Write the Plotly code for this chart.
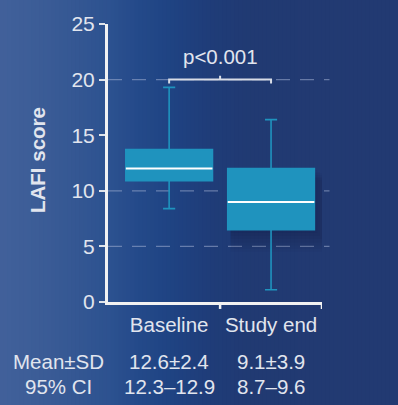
import numpy as np
import plotly.graph_objects as go

# ---- data ----
categories = ["Baseline", "Study end"]
upper_whisker = [19.3, 16.4]
q3_values = [13.7, 12.0]
medians = [12.0, 9.0]
q1_values = [10.9, 6.5]
lower_whisker = [8.4, 1.1]
y_ticks = [0, 5, 10, 15, 20, 25]
grid_values = [5, 10, 20]
p_text = "p<0.001"
bracket_value = 20
row_labels = ["Mean±SD", "95% CI"]
mean_sd = ["12.6±2.4", "9.1±3.9"]
ci_95 = ["12.3–12.9", "8.7–9.6"]

FONT = "Liberation Sans, Arial, Helvetica, sans-serif"
TXT = "#e1e5ee"
BOX = "#1f93be"
BOXGAP = 0.15

W, H = 398, 405
ML, MR, MT, MB = 108, 76, 24, 103
PW, PH = W - ML - MR, H - MT - MB


def px_to_paper_x(px):
    return (px - ML) / PW


def py_to_paper_y(py):
    return (H - MB - py) / PH


fig = go.Figure()

fig.add_trace(go.Box(
    x=categories, q1=q1_values, median=medians, q3=q3_values,
    lowerfence=lower_whisker, upperfence=upper_whisker,
    fillcolor=BOX, line=dict(color=BOX, width=1.6),
    whiskerwidth=0.14, boxpoints=False, hoverinfo="skip", showlegend=False,
))
# white median line
fig.add_trace(go.Box(
    x=categories, q1=medians, median=medians, q3=medians,
    lowerfence=medians, upperfence=medians,
    fillcolor="white", line=dict(color="white", width=2),
    whiskerwidth=0, boxpoints=False, hoverinfo="skip", showlegend=False,
))

shapes = []
# background gradient (decoration)
stops_px = [0, 40, 80, 110, 140, 175, 210, 250, 300, 398]
stops_rgb = [
    (66, 97, 155), (60, 93, 151), (52, 87, 147), (45, 82, 144), (36, 74, 138),
    (31, 67, 130), (31, 61, 121), (33, 58, 115), (34, 58, 114), (34, 58, 114),
]
n = 100
edges = np.linspace(0, W, n + 1)
for i in range(n):
    c = 0.5 * (edges[i] + edges[i + 1])
    rgb = [int(np.interp(c, stops_px, [s[k] for s in stops_rgb])) for k in range(3)]
    shapes.append(dict(
        type="rect", xref="paper", yref="paper",
        x0=px_to_paper_x(edges[i] - 0.5), x1=px_to_paper_x(edges[i + 1] + 0.5),
        y0=py_to_paper_y(H + 5), y1=py_to_paper_y(-5),
        fillcolor="rgb(%d,%d,%d)" % tuple(rgb), line=dict(width=0), layer="below",
    ))

# soft shadow to the right/below of the second box (decoration)
hw = (1 - BOXGAP) / 2
for k in range(1, 8):
    padx = 0.028 * k
    pady = 0.28 * k
    shapes.append(dict(
        type="rect", xref="x", yref="y",
        x0=1 - hw + 0.03, x1=1 + hw + padx,
        y0=q1_values[1] - pady, y1=q3_values[1] - 0.15 * k,
        fillcolor="rgba(10,20,50,0.05)", line=dict(width=0), layer="below",
    ))

# dashed grid lines
for gv in grid_values:
    shapes.append(dict(
        type="line", xref="x domain", yref="y", x0=0, x1=1.035, y0=gv, y1=gv,
        line=dict(color="rgba(160,175,210,0.55)", width=1.2, dash="14px,10px"), layer="below",
    ))

# x-axis boundary ticks
for b in [0.5, 1.5]:
    shapes.append(dict(
        type="line", xref="x", yref="y domain", x0=b, x1=b, y0=0, y1=-0.025,
        line=dict(color="#f2f2f2", width=2.5),
    ))

# significance bracket
drop = 0.35
path = "M 0,{a} L 0,{b} L 1,{b} L 1,{a} M 0.5,{b} L 0.5,{c}".format(
    a=bracket_value - drop, b=bracket_value, c=bracket_value + drop)
shapes.append(dict(type="path", xref="x", yref="y", path=path,
                   line=dict(color="#d8dce6", width=2)))

annotations = [
    dict(text=p_text, x=0.5, y=bracket_value, xref="x", yref="y", showarrow=False,
         yanchor="middle", yshift=23, font=dict(family=FONT, size=20.5, color=TXT)),
    dict(text="<b>LAFI score</b>", x=px_to_paper_x(37), y=py_to_paper_y(160),
         xref="paper", yref="paper", showarrow=False, textangle=-90,
         xanchor="center", yanchor="middle",
         font=dict(family=FONT, size=20.5, color=TXT)),
]
row_py = [361, 387]
for lab, py in zip(row_labels, row_py):
    annotations.append(dict(text=lab, x=px_to_paper_x(58), y=py_to_paper_y(py),
                            xref="paper", yref="paper", showarrow=False,
                            xanchor="center", yanchor="middle",
                            font=dict(family=FONT, size=20.5, color=TXT)))
for row_vals, py in zip([mean_sd, ci_95], row_py):
    for i, v in enumerate(row_vals):
        annotations.append(dict(text=v, x=i, y=py_to_paper_y(py),
                                xref="x", yref="paper", showarrow=False,
                                xanchor="center", yanchor="middle",
                                font=dict(family=FONT, size=20.5, color=TXT)))

fig.update_layout(
    width=W, height=H,
    margin=dict(l=ML, r=MR, t=MT, b=MB, pad=0),
    paper_bgcolor="#223a72", plot_bgcolor="rgba(0,0,0,0)",
    boxmode="overlay", boxgap=BOXGAP, boxgroupgap=0,
    shapes=shapes, annotations=annotations,
    xaxis=dict(type="category", categoryorder="array", categoryarray=categories,
               range=[-0.6, 1.5], showline=True, linewidth=3, linecolor="#f2f2f2",
               ticks="", showgrid=False, zeroline=False, ticklabelstandoff=2,
               tickfont=dict(family=FONT, size=20.5, color=TXT), fixedrange=True),
    yaxis=dict(range=[0, 25], tickmode="array", tickvals=y_ticks,
               showline=True, linewidth=3, linecolor="#f2f2f2",
               ticks="outside", ticklen=6, tickwidth=2, tickcolor="#dfe3ea",
               showgrid=False, zeroline=False,
               tickfont=dict(family=FONT, size=21, color=TXT), fixedrange=True),
)

fig.write_html(
    "out.html",
    config={"displayModeBar": False},
    post_script="document.body.style.margin='0';document.body.style.overflow='hidden';"
                "document.body.style.background='#223a72';",
)
